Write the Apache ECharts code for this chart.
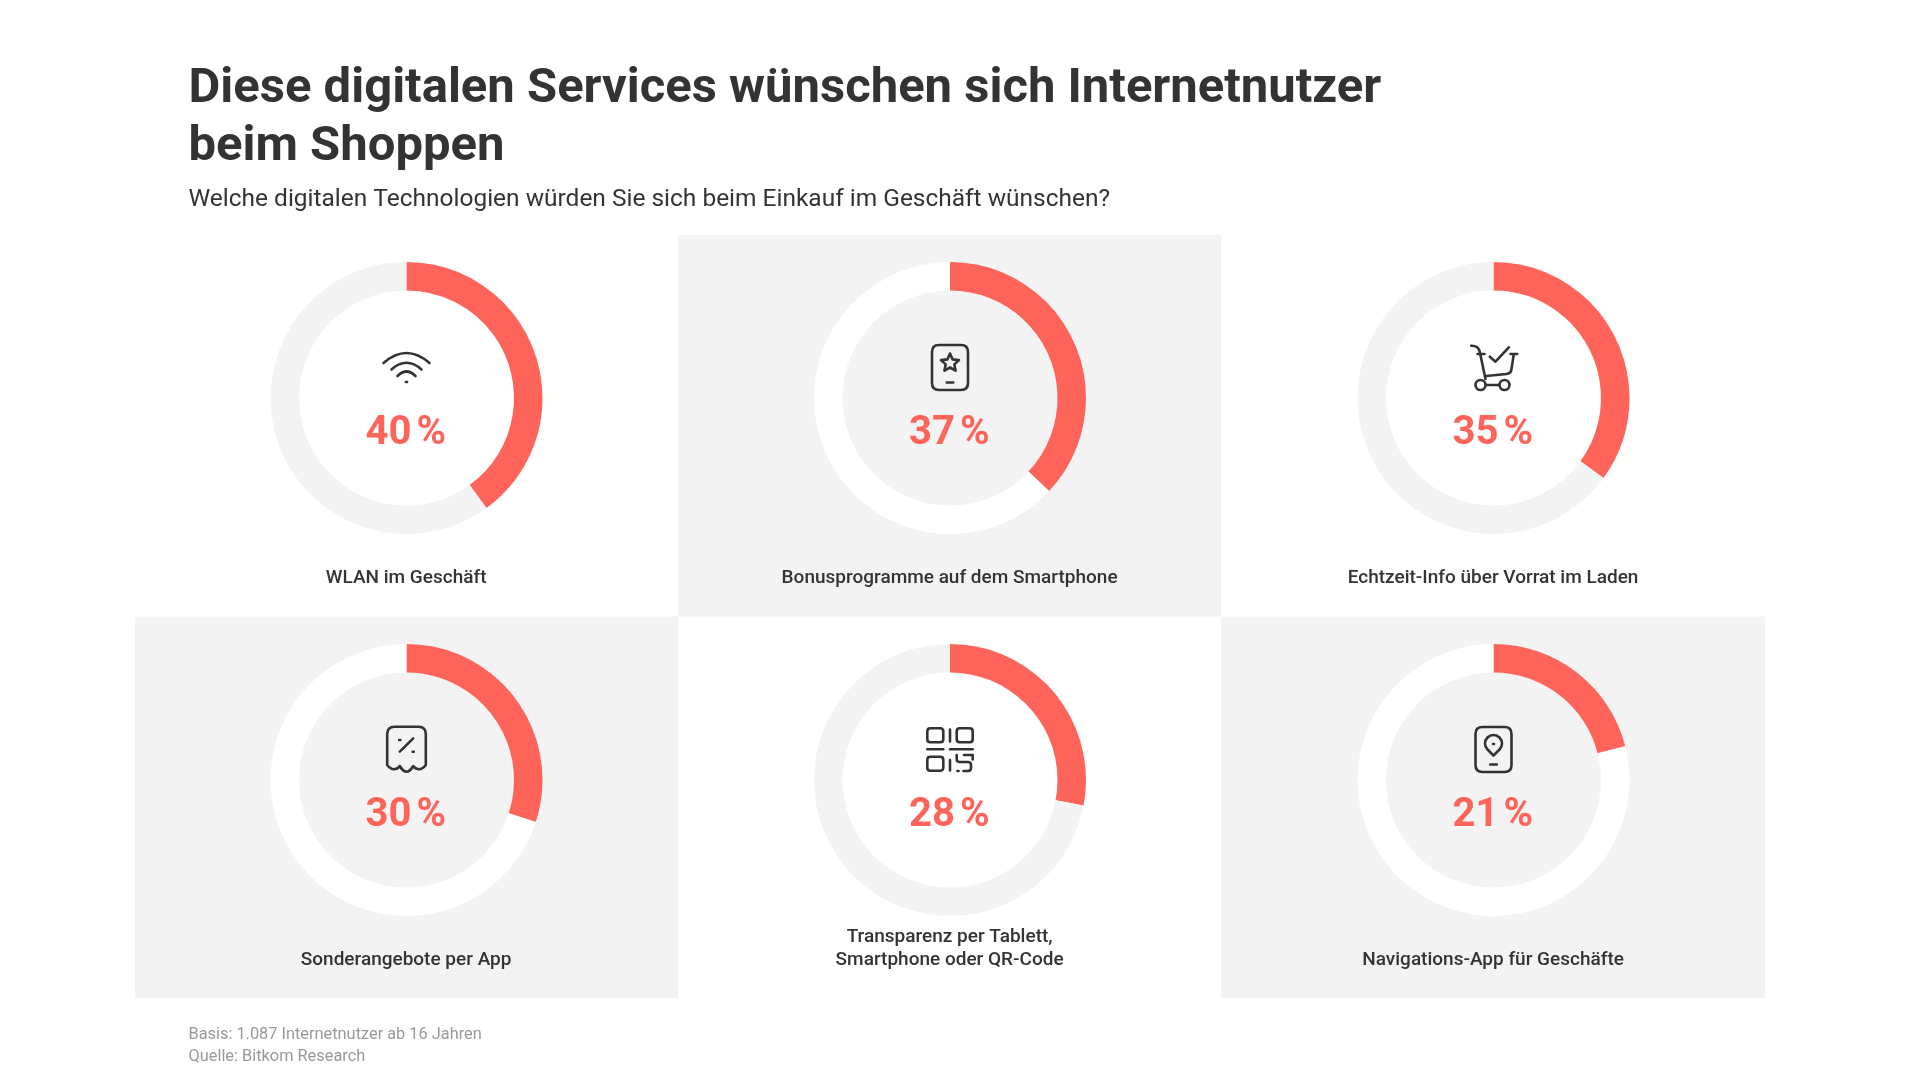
<!DOCTYPE html>
<html><head><meta charset="utf-8">
<style>html,body{margin:0;padding:0;background:#fff}#c{width:1920px;height:1080px}</style>
<script src="https://cdn.jsdelivr.net/npm/echarts@6/dist/echarts.min.js"></script>
</head><body><div id="c"></div>
<script>
const titleLines = ['Diese digitalen Services wünschen sich Internetnutzer', 'beim Shoppen'];
const subtitle = 'Welche digitalen Technologien würden Sie sich beim Einkauf im Geschäft wünschen?';
const categories = ['WLAN im Geschäft', 'Bonusprogramme auf dem Smartphone', 'Echtzeit-Info über Vorrat im Laden', 'Sonderangebote per App', 'Transparenz per Tablett,\nSmartphone oder QR-Code', 'Navigations-App für Geschäfte'];
const values = [40, 37, 35, 30, 28, 21];
const footnotes = ['Basis: 1.087 Internetnutzer ab 16 Jahren', 'Quelle: Bitkom Research'];
const phone = 'M-11 -53 H11 Q18 -53 18 -46 V-15 Q18 -8 11 -8 H-11 Q-18 -8 -18 -15 V-46 Q-18 -53 -11 -53 Z M-3.3 -15.5 H3.3 ';
const icons = [
  'M-23 -35 Q0 -55 23 -35 M-15 -28.5 Q0 -42 15 -28.5 M-9 -22 Q0 -31 9 -22 M-0.6 -16 H0.6',
  phone + 'M0 -44.5 L2.6 -38.6 L9 -37.9 L4.3 -33.6 L5.6 -27.3 L0 -30.5 L-5.6 -27.3 L-4.3 -33.6 L-9 -37.9 L-2.6 -38.6 Z',
  'M-22.3 -52.3 Q-15 -52.5 -13.7 -46 L-8 -19 M-16 -44 H-9 M17 -44 H23.7 M20.3 -44 L18 -29 Q17.5 -24.5 13 -24 L-7.5 -22 M-3.7 -41.3 L2 -36.3 L15.3 -50.7 M-8 -13 H6 M-8 -13 A5 5 0 1 1 -18 -13 A5 5 0 1 1 -8 -13 Z M16 -13 A5 5 0 1 1 6 -13 A5 5 0 1 1 16 -13 Z',
  'M-19.3 -15 V-46 Q-19.3 -53.3 -12 -53.3 H12 Q19.3 -53.3 19.3 -46 V-15 Q16 -10.7 12.5 -10.7 Q9 -10.7 6.7 -14 Q3.5 -8.3 0 -8.3 Q-3.5 -8.3 -6.7 -14 Q-9 -10.7 -12.5 -10.7 Q-16 -10.7 -19.3 -15 Z M-6.7 -28.3 L6.7 -41.7 M-7.3 -40 H-6.1 M6.1 -28.3 H7.3',
  'M-19.7 -51.7 H-9.7 Q-6.7 -51.7 -6.7 -48.7 V-40.7 Q-6.7 -37.7 -9.7 -37.7 H-19.7 Q-22.7 -37.7 -22.7 -40.7 V-48.7 Q-22.7 -51.7 -19.7 -51.7 Z M9.7 -51.7 H19.7 Q22.7 -51.7 22.7 -48.7 V-40.7 Q22.7 -37.7 19.7 -37.7 H9.7 Q6.7 -37.7 6.7 -40.7 V-48.7 Q6.7 -51.7 9.7 -51.7 Z M-19.7 -23.3 H-9.7 Q-6.7 -23.3 -6.7 -20.3 V-12.3 Q-6.7 -9.3 -9.7 -9.3 H-19.7 Q-22.7 -9.3 -22.7 -12.3 V-20.3 Q-22.7 -23.3 -19.7 -23.3 Z M0 -50.5 V-38.5 M-22.7 -30.7 H-6.7 M0 -30.7 H22.7 M0 -20 V-9.5 M6.7 -25 V-20.5 Q6.7 -18 10 -18 H18 Q21 -18 21 -15 V-12 Q21 -9 18 -9 H13.5 M14 -25 H22.7 V-20.5 M7.4 -9 H8.6',
  phone + 'M0 -24.5 L-6 -30.5 A8.5 8.5 0 1 1 6 -30.5 Z M-0.5 -36 H0.5'
];

const centersX = [406.5, 950, 1493.5];
const centersY = [398, 780];
const panelX = [135, 678, 1221, 1765];
const panelY = [235, 616.5, 998];
const accent = '#ff645a', pale = '#f3f3f3', ink = '#333333';
const font = 'Roboto';
const graphics = [];
const series = [];
const text = (x, y, t, size, weight, fill, align) => ({
  type: 'text', x, y, z: 5, silent: true,
  style: { text: t, font: `${weight} ${size}px ${font}`, fill, align: align || 'left', verticalAlign: 'middle', lineHeight: 23 }
});

values.forEach((v, i) => {
  const col = i % 3, row = Math.floor(i / 3);
  const cx = centersX[col], cy = centersY[row];
  const shaded = (col + row) % 2 === 1;
  if (shaded) graphics.push({
    type: 'rect', z: 0, silent: true,
    shape: { x: panelX[col], y: panelY[row], width: panelX[col + 1] - panelX[col], height: panelY[row + 1] - panelY[row] },
    style: { fill: pale }
  });
  series.push({
    type: 'pie', silent: true, animation: false, z: 2,
    center: [cx, cy], radius: [107.5, 136], startAngle: 90, clockwise: true,
    label: { show: false }, labelLine: { show: false },
    data: [
      { name: categories[i], value: v, itemStyle: { color: accent } },
      { name: 'Rest', value: 100 - v, itemStyle: { color: shaded ? '#ffffff' : pale } }
    ]
  });
  graphics.push(text(cx - 0.7, cy + 36, v + '\u202f%', 40, 700, accent, 'center'));
  const lines = categories[i].split('\n');
  const labelY = row === 0 ? 578.7 : 960.2;
  lines.forEach((l, k) => graphics.push(text(cx - 0.4, labelY - (lines.length - 1 - k) * 23, l, 19, 500, ink, 'center')));
});

series.push({
  type: 'custom', coordinateSystem: 'none', silent: true, animation: false, z: 5,
  data: icons.map((d, i) => [i]),
  renderItem: (params, api) => {
    const i = api.value(0);
    return {
      type: 'path', x: centersX[i % 3], y: centersY[Math.floor(i / 3)],
      shape: { pathData: icons[i] },
      style: { fill: null, stroke: ink, lineWidth: 2.6, lineCap: 'round', lineJoin: 'round' }
    };
  }
});

titleLines.forEach((l, k) => graphics.push(text(188.5, 89.5 + k * 58.5, l, 49, 700, ink)));
graphics.push(text(188.5, 199.5, subtitle, 24.47, 400, ink));
footnotes.forEach((l, k) => graphics.push(text(188.5, 1035 + k * 21.5, l, 16.35, 400, '#999999')));

echarts.init(document.getElementById('c'), null, { renderer: 'canvas' }).setOption({
  backgroundColor: '#ffffff', animation: false, tooltip: { show: false }, legend: { show: false },
  series, graphic: { elements: graphics }
});
</script></body></html>
